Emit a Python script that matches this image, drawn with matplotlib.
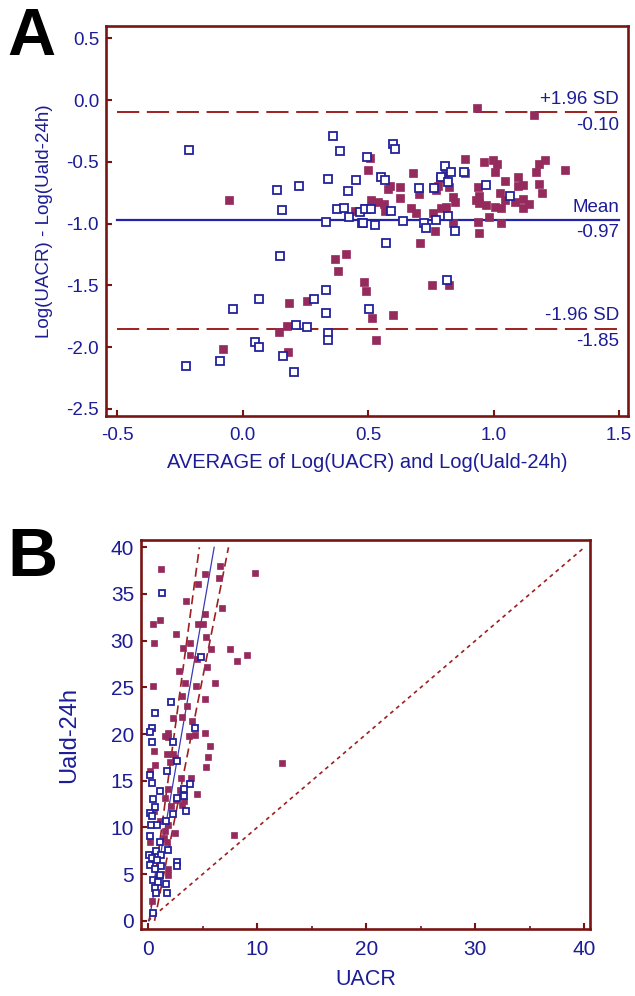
import matplotlib
matplotlib.use("Agg")
import matplotlib.pyplot as plt
import numpy as np

plt.rcParams['font.family'] = ['Liberation Sans', 'DejaVu Sans']
plt.rcParams['lines.scale_dashes'] = False

# ---------------- Panel A data (Bland-Altman) ----------------
a_blue_x = [-0.215, 0.361, 0.39, 0.495, 0.341, 0.451, 0.224, 0.139, 0.421, 0.158,
            0.377, 0.406, 0.49, 0.426, 0.333, 0.467, 0.477, 0.149, 0.331, 0.286,
            0.065, -0.039, 0.331, 0.503, 0.214, 0.255, 0.341, 0.341, 0.049, 0.065,
            0.163, -0.088, -0.226, 0.203, 0.6, 0.608, 0.805, 0.829, 0.882, 0.553,
            0.569, 0.789, 0.818, 0.705, 0.761, 0.971, 1.064, 0.489, 0.513, 0.59,
            0.639, 0.479, 0.526, 0.572, 0.725, 0.732, 0.772, 0.818, 0.847, 0.815]
a_blue_y = [-0.405, -0.289, -0.41, -0.46, -0.637, -0.648, -0.694, -0.729, -0.74, -0.893,
            -0.883, -0.872, -0.883, -0.945, -0.99, -0.904, -0.993, -1.26, -1.538, -1.609,
            -1.614, -1.692, -1.722, -1.692, -1.824, -1.835, -1.884, -1.946, -1.96, -2.0,
            -2.07, -2.113, -2.154, -2.205, -0.356, -0.4, -0.532, -0.585, -0.583, -0.621,
            -0.648, -0.621, -0.667, -0.715, -0.715, -0.686, -0.774, -0.885, -0.883, -0.896,
            -0.977, -0.993, -1.012, -1.155, -0.993, -1.036, -0.972, -0.939, -1.058, -1.457]

a_red_x = [0.5, -0.056, 0.449, 0.369, 0.414, 0.38, 0.482, 0.49, 0.258, 0.187,
           0.515, 0.177, 0.147, -0.076, 0.181, 0.933, 1.161, 0.506, 0.888, 0.964,
           0.997, 1.015, 1.206, 1.183, 0.805, 0.886, 0.679, 1.004, 1.097, 1.171,
           1.283, 0.785, 0.822, 0.778, 0.765, 0.588, 0.579, 0.628, 0.772, 0.94,
           1.047, 1.097, 1.117, 1.181, 1.194, 0.944, 1.024, 1.045, 1.084, 1.117,
           1.142, 1.117, 0.628, 0.705, 0.838, 0.845, 0.931, 0.942, 0.971, 1.004,
           1.031, 0.513, 0.539, 0.562, 0.566, 0.672, 0.692, 0.758, 0.792, 0.811,
           0.768, 0.838, 0.708, 0.937, 0.944, 1.031, 0.984, 0.756, 0.822, 0.6, 0.53]
a_red_y = [-0.567, -0.81, -0.899, -1.287, -1.247, -1.382, -1.471, -1.544, -1.625, -1.646,
           -1.768, -1.83, -1.879, -2.016, -2.038, -0.062, -0.121, -0.467, -0.478, -0.5,
           -0.486, -0.521, -0.486, -0.521, -0.594, -0.588, -0.594, -0.58, -0.621, -0.58,
           -0.567, -0.634, -0.702, -0.694, -0.702, -0.694, -0.723, -0.702, -0.729, -0.702,
           -0.653, -0.694, -0.69, -0.68, -0.75, -0.777, -0.755, -0.81, -0.823, -0.802,
           -0.845, -0.877, -0.791, -0.761, -0.783, -0.823, -0.81, -0.837, -0.85, -0.869,
           -0.877, -0.81, -0.823, -0.842, -0.896, -0.877, -0.912, -0.917, -0.877, -0.869,
           -1.063, -0.993, -1.16, -0.985, -1.08, -0.993, -0.95, -1.498, -1.498, -1.738, -1.943]

mean_diff = -0.97
upper_loa = -0.10
lower_loa = -1.85
a_line_x = [-0.5, 1.5]
a_xticks = [-0.5, 0.0, 0.5, 1.0, 1.5]
a_yticks = [0.5, 0.0, -0.5, -1.0, -1.5, -2.0, -2.5]

# ---------------- Panel B data (scatter) ----------------
b_blue_x = [1.3, 4.81, 2.06, 0.6, 0.35, 4.33, 0.14, 0.38, 2.27, 2.64,
            1.72, 0.2, 0.35, 3.87, 1.05, 3.28, 2.64, 3.28, 0.44, 0.6,
            3.5, 0.14, 0.35, 2.27, 1.67, 0.23, 0.84, 0.14, 1.05, 1.82,
            0.75, 0.05, 1.21, 0.35, 0.84, 2.67, 2.67, 0.14, 1.15, 0.66,
            1.05, 0.44, 0.9, 1.67, 0.6, 1.76, 0.75, 0.44]
b_blue_y = [35.1, 28.3, 23.4, 22.3, 20.7, 20.7, 20.2, 19.1, 19.1, 17.1,
            16.1, 15.6, 14.8, 14.7, 13.9, 14.1, 13.2, 13.4, 13.0, 12.2,
            11.8, 11.6, 11.2, 11.4, 10.7, 10.3, 10.3, 9.1, 8.4, 7.6,
            7.5, 7.0, 7.0, 6.75, 6.5, 6.3, 5.85, 6.0, 5.85, 5.5,
            4.95, 4.4, 4.2, 3.9, 3.5, 3.0, 3.0, 0.85]

b_red_x = [6.55, 6.46, 9.83, 6.8, 7.5, 9.03, 8.17, 6.1, 12.26, 7.9,
           1.21, 5.18, 4.56, 3.44, 5.18, 1.05, 0.44, 4.56, 5.02, 2.52,
           5.27, 0.53, 3.8, 3.19, 5.79, 3.8, 4.47, 5.43, 2.82, 3.35,
           4.42, 0.44, 3.13, 5.18, 3.59, 2.27, 3.13, 4.0, 1.8, 1.51,
           1.82, 3.71, 4.26, 5.18, 5.64, 0.53, 1.72, 2.27, 2.49, 1.97,
           5.48, 5.27, 0.66, 3.04, 3.9, 0.18, 1.82, 2.89, 4.47, 1.58,
           3.28, 2.52, 2.13, 3.13, 0.53, 1.05, 1.82, 2.43, 1.51, 1.45,
           1.72, 0.14, 1.82, 1.82, 0.35]
b_red_y = [38.0, 36.7, 37.2, 33.5, 29.1, 28.5, 27.8, 25.5, 16.9, 9.2,
           37.7, 37.1, 36.1, 34.2, 32.9, 32.2, 31.8, 31.8, 31.8, 30.7,
           30.4, 29.8, 29.8, 29.2, 29.1, 28.5, 28.0, 27.2, 26.8, 25.5,
           25.2, 25.2, 24.1, 23.8, 23.0, 21.7, 21.8, 21.4, 20.1, 19.8,
           19.7, 19.8, 19.9, 20.1, 18.7, 18.2, 17.9, 17.9, 17.4, 17.0,
           17.5, 16.5, 16.7, 15.3, 15.3, 16.0, 14.1, 14.0, 13.6, 13.2,
           12.8, 12.9, 12.3, 12.4, 11.8, 10.7, 10.3, 9.4, 9.6, 8.9,
           8.4, 8.4, 5.5, 4.95, 2.1]

# regression line and band (y = a + b*x), drawn for y in [0, 40]
reg_a, reg_b = -0.6, 6.7
band_hi_a, band_hi_b = -0.9, 8.7
band_lo_a, band_lo_b = -3.5, 5.9
b_line_y = [0, 40]
identity = [0, 40]
b_xticks = [0, 10, 20, 30, 40]
b_xminor = [5, 15, 25, 35]
b_yticks = [0, 5, 10, 15, 20, 25, 30, 35, 40]

# ---------------- Styles ----------------
BLUE = '#22229c'
TXT = '#1c1c96'
RED = '#952a5c'
SPINE = '#7a1414'
DASH = '#9e1f1f'

fig = plt.figure(figsize=(6.35, 9.96), dpi=100)


def style_axes(ax, size):
    for s in ax.spines.values():
        s.set_color(SPINE)
        s.set_linewidth(1.9)
    ax.tick_params(direction='in', length=4, width=1.5, color=SPINE,
                   labelcolor=TXT, labelsize=size)
    ax.tick_params(axis='x', pad=8)
    ax.tick_params(axis='y', pad=5)


# Panel A
axA = fig.add_axes([0.167, 0.582, 0.822, 0.392])
axA.plot(a_line_x, [upper_loa, upper_loa], color=DASH, lw=1.4, dashes=(16, 5.5), zorder=1)
axA.plot(a_line_x, [lower_loa, lower_loa], color=DASH, lw=1.4, dashes=(16, 5.5), zorder=1)
axA.plot(a_line_x, [mean_diff, mean_diff], color='#2424aa', lw=1.6, zorder=1)
axA.plot(a_red_x, a_red_y, 's', ms=5.2, color=RED, mec=RED, mew=0.5, ls='none', zorder=3)
axA.plot(a_blue_x, a_blue_y, 's', ms=5.2, mfc='white', mec=BLUE, mew=1.3, ls='none', zorder=4)
axA.set_xlim(-0.544, 1.536)
axA.set_ylim(-2.56, 0.6)
axA.set_xticks(a_xticks)
axA.set_xticklabels([f"{v:.1f}" for v in a_xticks])
axA.set_yticks(a_yticks)
axA.set_yticklabels([f"{v:.1f}" for v in a_yticks])
style_axes(axA, 13.5)
axA.set_xlabel("AVERAGE of Log(UACR) and Log(Uald-24h)", color=TXT, fontsize=14.5, labelpad=6)
axA.set_ylabel("Log(UACR) - Log(Uald-24h)", color=TXT, fontsize=13.5, labelpad=10)

for val, top, bottom in [(upper_loa, "+1.96 SD", f"{upper_loa:.2f}"),
                         (mean_diff, "Mean", f"{mean_diff:.2f}"),
                         (lower_loa, "-1.96 SD", f"{lower_loa:.2f}")]:
    axA.annotate(top, (a_line_x[1], val), xytext=(0, 3), textcoords='offset points',
                 ha='right', va='bottom', color=TXT, fontsize=13.5)
    axA.annotate(bottom, (a_line_x[1], val), xytext=(0, -3), textcoords='offset points',
                 ha='right', va='top', color=TXT, fontsize=13.5)

fig.text(0.012, 0.993, "A", fontsize=48, fontweight='bold', ha='left', va='top', color='black')

# Panel B
axB = fig.add_axes([0.222, 0.067, 0.707, 0.391])
yl = np.array(b_line_y, dtype=float)
axB.plot((yl - band_hi_a) / band_hi_b, yl, color=DASH, lw=1.2, dashes=(6.5, 3.5), zorder=1)
axB.plot((yl - band_lo_a) / band_lo_b, yl, color=DASH, lw=1.2, dashes=(6.5, 3.5), zorder=1)
axB.plot((yl - reg_a) / reg_b, yl, color='#3a3ab8', lw=0.9, zorder=2)
axB.plot(identity, identity, color=DASH, lw=1.2, dashes=(2.8, 2.8), zorder=1)
axB.plot(b_red_x, b_red_y, 's', ms=4.8, color=RED, mec=RED, mew=0.5, ls='none', zorder=3)
axB.plot(b_blue_x, b_blue_y, 's', ms=5.0, mfc='white', mec=BLUE, mew=1.3, ls='none', zorder=4)
axB.set_xlim(-0.65, 40.5)
axB.set_ylim(-0.9, 40.8)
axB.set_xticks(b_xticks)
axB.set_xticks(b_xminor, minor=True)
axB.set_yticks(b_yticks)
style_axes(axB, 15)
axB.tick_params(which='minor', direction='in', length=2.5, width=1.2, color=SPINE)
axB.set_xlabel("UACR", color=TXT, fontsize=15.5, labelpad=7)
axB.set_ylabel("Uald-24h", color=TXT, fontsize=17, labelpad=22)

fig.text(0.012, 0.472, "B", fontsize=50, fontweight='bold', ha='left', va='top', color='black')

fig.savefig("out.png", dpi=100)
